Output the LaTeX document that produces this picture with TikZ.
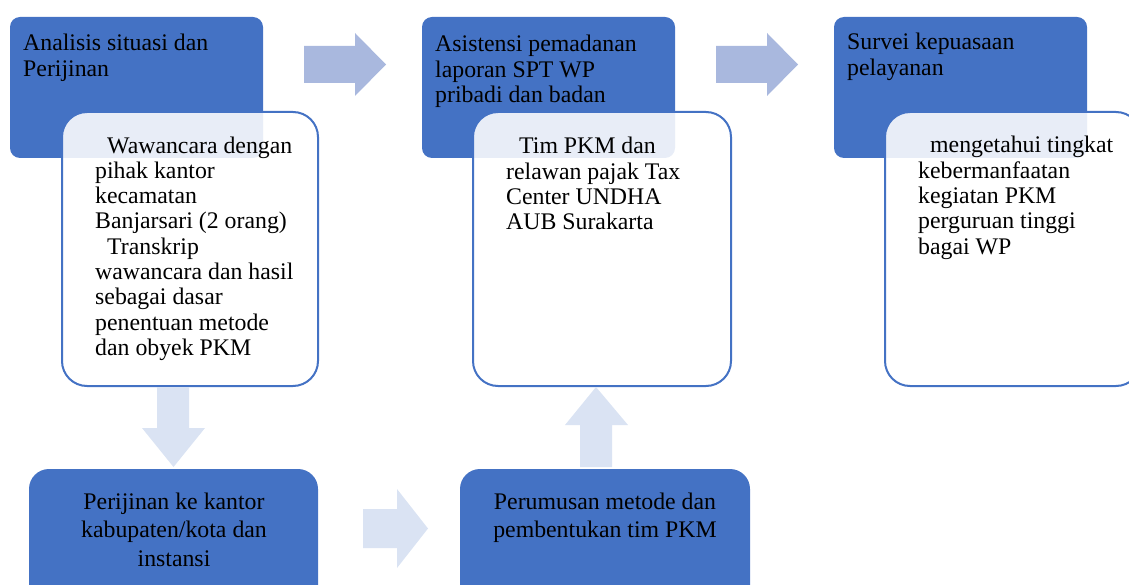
\documentclass[tikz,border=0pt]{standalone}
\usepackage{fontspec}
\setmainfont{Liberation Serif}
\definecolor{mainblue}{HTML}{4472C4}
\definecolor{arrowdark}{HTML}{A9B8DE}
\definecolor{arrowlight}{HTML}{DAE3F3}
\begin{document}
\begin{tikzpicture}[x=1pt,y=-1pt,
  bluebox/.style={fill=mainblue, draw=none, rounded corners=10pt},
  whitebox/.style={fill=white, fill opacity=0.88, draw=mainblue, line width=2pt, rounded corners=25pt},
  lowbox/.style={fill=mainblue, draw=none, rounded corners=20pt},
  darrow/.style={fill=arrowdark, draw=none},
  larrow/.style={fill=arrowlight, draw=none},
  txt/.style={font=\fontsize{23.8}{25.3}\selectfont, align=left, anchor=base west, inner sep=0pt},
  ctxt/.style={font=\fontsize{23.8}{28.7}\selectfont, align=center, anchor=base, inner sep=0pt}]
\useasboundingbox (0,0) rectangle (1129,585);
\clip (0,0) rectangle (1129,585);
% top blue boxes
\fill[bluebox] (10,17) rectangle (263,158);
\fill[bluebox] (422,17) rectangle (675,158);
\fill[bluebox] (834,17) rectangle (1087,158);
% white boxes
\filldraw[whitebox] (62,112) rectangle (318,386);
\filldraw[whitebox] (473,112) rectangle (731,386);
\filldraw[whitebox] (885,112) rectangle (1141,386);
% lower boxes
\fill[lowbox] (29,469) rectangle (318,610);
\fill[lowbox] (460,469) rectangle (750,610);
% top arrows
\fill[darrow] (304,46) -- (355,46) -- (355,33) -- (386,64.5) -- (355,96) -- (355,83) -- (304,83) -- cycle;
\fill[darrow] (716,46) -- (767,46) -- (767,33) -- (798,64.5) -- (767,96) -- (767,83) -- (716,83) -- cycle;
% down arrow
\fill[larrow] (157,387) -- (189,387) -- (189,428) -- (205,428) -- (173.5,467) -- (142,428) -- (157,428) -- cycle;
% lower right arrow
\fill[larrow] (363,509) -- (397,509) -- (397,489) -- (428,528.5) -- (397,568) -- (397,548) -- (363,548) -- cycle;
% up arrow
\fill[larrow] (580,467) -- (580,425) -- (565,425) -- (596,387) -- (628,425) -- (612,425) -- (612,467) -- cycle;
% texts (anchor = baseline of last line)
\node[txt] (t1) at (23,76.3) {Analisis situasi dan\\Perijinan};
\node[txt] (w1) at (95,355.4) {\hspace*{12pt}Wawancara dengan\\pihak kantor\\kecamatan\\Banjarsari (2 orang)\\\hspace*{12pt}Transkrip\\wawancara dan hasil\\sebagai dasar\\penentuan metode\\dan obyek PKM};
\node[txt] (t2) at (435,102.6) {Asistensi pemadanan\\laporan SPT WP\\pribadi dan badan};
\node[txt] (w2) at (506,229.9) {\hspace*{13pt}Tim PKM dan\\relawan pajak Tax\\Center UNDHA\\AUB Surakarta};
\node[txt] (t3) at (847,75.3) {Survei kepuasaan\\pelayanan};
\node[txt] (w3) at (918,254.2) {\hspace*{12pt}mengetahui tingkat\\kebermanfaatan\\kegiatan PKM\\perguruan tinggi\\bagai WP};
\node[ctxt] (l1) at (174,566.4) {Perijinan ke kantor\\kabupaten/kota dan\\instansi};
\node[ctxt] (l2) at (605,537.7) {Perumusan metode dan\\pembentukan tim PKM};
\end{tikzpicture}
\end{document}
